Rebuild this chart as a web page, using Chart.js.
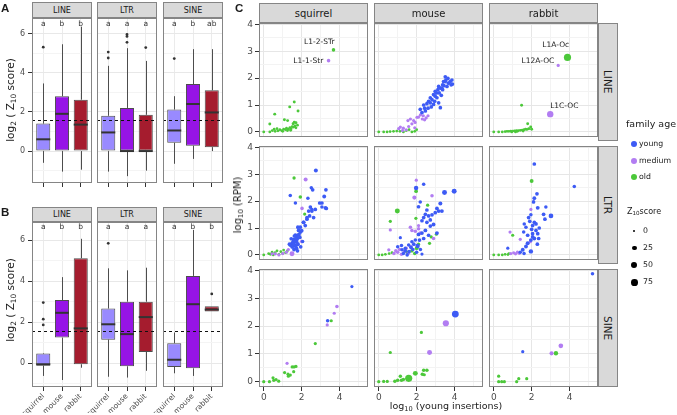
<!DOCTYPE html>
<html>
<head>
<meta charset="utf-8">
<script src="https://cdn.jsdelivr.net/npm/chart.js@4.4.1/dist/chart.umd.min.js"></script>
<style>
  body { margin: 0; width: 677px; height: 415px; position: relative; overflow: hidden; background: #fff;
         font-family: "DejaVu Sans", sans-serif; color: #1a1a1a; }
  canvas { position: absolute; }
  .txt { position: absolute; white-space: nowrap; line-height: 1; }
  .strip { position: absolute; box-sizing: border-box; background: #d9d9d9; border: 1px solid #858585;
           display: flex; align-items: center; justify-content: center; color: #1a1a1a; }
  .vstrip { writing-mode: vertical-rl; }
  sub { font-size: 70%; vertical-align: -0.25em; line-height: 0; }
  .panel { font-family: "Liberation Sans", Arial, sans-serif; font-weight: bold; font-size: 11.5px; }
  .dot { position: absolute; border-radius: 50%; }
</style>
</head>
<body>
<script>
const FONT = '"DejaVu Sans", sans-serif';

// ---- shared categories ----
const speciesNames = ['squirrel', 'mouse', 'rabbit'];
const familyTypes = ['LINE', 'LTR', 'SINE'];
const boxColors = ['#998AFF', '#9614E6', '#A51C2E'];
const ageKeys = ['y', 'm', 'o'];
const ageNames = ['young', 'medium', 'old'];
const ageColors = ['#3D5BF5', '#B27DF2', '#4CC83A'];
const zLegend = [0, 25, 50, 75];
const z10Threshold = Math.log2(3);

// ---- panel A / B box stats: [lower whisker, q1, median, q3, upper whisker] per species ----
const A_LINE = [[-0.6, 0, 0.6, 1.4, 3.45], [-1.05, 0, 1.9, 2.8, 5.45], [-0.95, 0, 1.35, 2.62, 6.35]];
const A_LTR  = [[-1.05, 0, 0.95, 1.8, 4.35], [-1.28, 0, 0, 2.2, 5.25], [-1.0, 0, 0, 1.85, 4.6]];
const A_SINE = [[-0.65, 0.42, 1.05, 2.12, 2.8], [-0.4, 0.27, 2.4, 3.42, 5.2], [0, 0.2, 1.97, 3.1, 5.2]];
const A_LINE_out = [[5.3], [], []];
const A_LTR_out  = [[4.75, 5.05], [5.55, 5.85, 5.95], [5.28]];
const A_SINE_out = [[4.72], [], []];
const B_LINE = [[-0.62, -0.12, -0.05, 0.47, 0.5], [-0.82, 1.25, 2.46, 3.08, 4.2], [-0.22, -0.05, 1.7, 5.12, 6.07]];
const B_LTR  = [[-0.66, 1.15, 1.9, 2.67, 4.63], [-0.7, -0.15, 1.42, 3.0, 4.53], [-0.37, 0.55, 2.25, 3.0, 4.66]];
const B_SINE = [[-0.49, -0.18, 0.17, 0.98, 1.5], [-0.62, -0.25, 2.88, 4.26, 6.5], [2.52, 2.52, 2.62, 2.78, 2.78]];
const B_LINE_out = [[1.87, 2.15, 2.96], [], []];
const B_LTR_out  = [[5.85], [], []];
const B_SINE_out = [[], [], [3.38]];
const lettersA = [['a', 'b', 'b'], ['a', 'a', 'a'], ['a', 'b', 'ab']];
const lettersB = [['a', 'b', 'b'], ['a', 'a', 'a'], ['a', 'b', 'b']];

// ---- panel C points: [log10 young insertions, log10 RPM, Z10 score, age] ----
const pts_squirrel_LINE = [
  [3.68,3.05,8,'o'],[3.42,2.65,8,'m'],
  [1.61,1.11,3,'o'],[1.37,0.93,3,'o'],[1.81,0.78,3,'o'],[0.58,0.66,3,'o'],[1.09,0.45,3,'o'],[1.26,0.42,3,'o'],
  [1.61,0.36,3,'o'],[1.7,0.34,3,'o'],[1.55,0.3,3,'o'],[0.32,0.29,3,'o'],
  [0,0,2,'o'],[0.32,0,2,'o'],[0.45,0.05,2,'o'],[0.55,0.1,2,'o'],[0.6,0.02,2,'o'],[0.7,0.12,2,'o'],[0.75,0.04,2,'o'],
  [0.85,0.08,2,'o'],[0.95,0.05,2,'o'],[1.0,0.02,2,'o'],[1.05,0.1,2,'o'],[1.15,0.08,2,'o'],[1.2,0.14,2,'o'],[1.25,0.05,2,'o'],
  [1.3,0.1,2,'o'],[1.38,0.16,2,'o'],[1.42,0.06,2,'o'],[1.45,0.12,2,'o'],[1.5,0.2,2,'o'],[1.58,0.18,2,'o'],[1.65,0.22,2,'o'],
  [1.7,0.15,2,'o'],[1.78,0.25,2,'o']
];
const pts_mouse_LINE = [
  [0,0,2,'o'],[0.26,0,2,'o'],[0.44,0,2,'o'],[0.6,0.01,2,'o'],[0.78,0.02,2,'o'],[0.95,0.03,2,'o'],[1.12,0.02,2,'o'],
  [1.3,0,2,'o'],[1.45,0.05,2,'o'],[1.6,0.08,2,'o'],[1.75,0,2,'o'],[1.9,0.02,2,'o'],[2.0,0.08,2,'o'],
  [1.05,0.12,5,'m'],[1.14,0.18,5,'m'],[1.25,0.05,5,'m'],[1.3,0.14,5,'m'],[1.45,0.08,5,'m'],[1.54,0.42,5,'m'],[1.58,0.2,5,'m'],
  [1.67,0.48,5,'m'],[1.75,0.3,5,'m'],[1.84,0.42,5,'m'],[1.9,0.15,5,'m'],[1.92,0.35,5,'m'],[2.02,0.54,5,'m'],[2.1,0.55,5,'m'],
  [2.2,0.63,5,'m'],[2.3,0.48,5,'m'],[2.35,0.6,5,'m'],[2.42,0.45,5,'m'],[2.5,0.52,5,'m'],[2.6,0.6,5,'m'],
  [2.19,0.84,10,'y'],[2.28,0.72,10,'y'],[2.37,1.0,10,'y'],[2.42,0.88,10,'y'],[2.46,0.78,10,'y'],[2.54,1.05,10,'y'],[2.6,0.88,10,'y'],
  [2.63,1.14,10,'y'],[2.72,1.27,10,'y'],[2.72,1.08,10,'y'],[2.77,0.93,10,'y'],[2.81,1.2,10,'y'],[2.89,1.39,10,'y'],[2.89,1.02,10,'y'],
  [2.95,1.14,10,'y'],[2.98,1.33,10,'y'],[2.98,1.51,10,'y'],[3.04,1.45,10,'y'],[3.07,1.27,10,'y'],[3.12,1.57,10,'y'],[3.16,1.08,10,'y'],
  [3.16,1.69,10,'y'],[3.19,1.45,10,'y'],[3.25,1.63,10,'y'],[3.25,0.9,10,'y'],[3.3,1.36,10,'y'],[3.33,1.63,10,'y'],[3.37,1.75,10,'y'],
  [3.37,1.57,10,'y'],[3.42,1.87,10,'y'],[3.44,1.72,10,'y'],[3.51,2.05,10,'y'],[3.51,1.87,10,'y'],[3.54,1.93,10,'y'],[3.6,1.69,10,'y'],
  [3.65,1.99,10,'y'],[3.68,1.81,10,'y'],[3.77,1.87,10,'y'],[3.82,1.75,10,'y'],[3.86,1.93,10,'y'],[3.89,1.78,10,'y']
];
const pts_rabbit_LINE = [
  [3.89,2.77,90,'o'],[3.4,2.47,5,'m'],[2.98,0.66,65,'m'],
  [1.47,0.99,3,'o'],[1.79,0.3,3,'o'],[1.95,0.18,3,'o'],[2.0,0.1,3,'o'],[1.85,0.12,3,'o'],
  [0,0,2,'o'],[0.26,0,2,'o'],[0.45,0,2,'o'],[0.6,0.01,2,'o'],[0.7,0.02,2,'o'],[0.8,0.02,2,'o'],[0.9,0.03,2,'o'],[0.95,0,2,'o'],
  [1.0,0.03,2,'o'],[1.1,0.04,2,'o'],[1.15,0,2,'o'],[1.2,0.05,2,'o'],[1.25,0.02,2,'o'],[1.3,0.05,2,'o'],[1.4,0.06,2,'o'],
  [1.5,0.07,2,'o'],[1.55,0.03,2,'o'],[1.6,0.08,2,'o'],[1.68,0.1,2,'o'],[1.75,0.09,2,'o']
];
const pts_squirrel_LTR = [
  [0,0,2,'o'],[0.26,0.05,2,'o'],[0.35,0.02,2,'o'],[0.44,0.1,2,'o'],[0.5,0,2,'o'],[0.6,0.08,2,'o'],[0.7,0.15,2,'o'],
  [0.8,0.02,2,'o'],[0.9,0.12,2,'o'],[1.0,0.05,2,'o'],[1.05,0.18,2,'o'],[1.15,0.08,2,'o'],[1.25,0.15,2,'o'],
  [1.6,2.86,6,'o'],[1.93,2.15,8,'o'],[2.16,1.52,5,'o'],
  [0.44,0.04,5,'m'],[0.61,0.04,5,'m'],[0.8,0,5,'m'],[1.0,0.05,5,'m'],[1.2,0.1,5,'m'],[1.3,0.2,5,'m'],[1.49,0.04,30,'m'],
  [1.72,0.73,5,'m'],[2.0,0.5,8,'m'],[2.21,2.8,14,'m'],[2.02,1.73,8,'m'],
  [2.75,3.14,14,'y'],[2.58,2.42,10,'y'],[2.51,2.5,8,'y'],[3.28,2.42,10,'y'],[1.4,2.21,8,'y'],[2.33,2.11,8,'y'],[3.19,2.17,12,'y'],
  [1.67,1.93,8,'y'],[2.95,1.93,10,'y'],[3.3,1.73,10,'y'],[3.07,1.78,8,'y'],[2.46,1.78,10,'y'],[2.37,1.63,10,'y'],[2.54,1.69,8,'y'],
  [2.63,1.39,10,'y'],[2.28,1.33,12,'y'],[2.1,1.21,12,'y'],[1.93,1.03,10,'y'],[1.84,0.91,12,'y'],[1.67,0.73,12,'y'],[1.58,0.55,14,'y'],
  [1.4,0.37,12,'y'],[2.19,1.09,10,'y'],[2.42,1.45,10,'y'],[2.1,1.21,10,'y'],[2.28,1.39,10,'y'],[2.54,1.63,10,'y'],[2.72,1.69,10,'y'],
  [3.07,1.93,10,'y'],[3.25,1.75,10,'y'],[1.8,1.03,10,'y'],[1.93,0.85,10,'y'],[1.75,0.67,10,'y'],[1.49,0.43,10,'y'],
  [1.55,0.45,20,'y'],[1.6,0.55,25,'y'],[1.7,0.5,25,'y'],[1.75,0.6,20,'y'],[1.65,0.35,20,'y'],[1.8,0.4,15,'y'],[1.5,0.3,15,'y'],
  [1.85,0.75,15,'y'],[1.9,0.65,12,'y'],[1.72,0.25,15,'y'],[1.6,0.2,12,'y'],[2.0,0.9,12,'y'],[2.05,0.5,8,'y'],[1.45,0.6,10,'y'],
  [1.95,0.3,10,'y'],[1.35,0.4,8,'y'],[1.78,0.15,10,'y'],[1.62,0.7,12,'y']
];
const pts_mouse_LTR = [
  [0,0,2,'o'],[0.18,0,2,'o'],[0.35,0.02,2,'o'],[0.55,0.05,2,'o'],[0.7,0.08,2,'o'],[1.5,0.1,8,'o'],[1.75,0.15,8,'o'],
  [2.0,0.25,12,'o'],[1.9,0.05,8,'o'],[2.1,0.4,5,'o'],[1.97,2.37,10,'o'],[2.58,1.85,6,'o'],[0.98,1.63,30,'o'],[1.96,1.36,5,'o'],
  [0.61,1.25,5,'o'],[2.77,0.67,5,'o'],[3.04,0.77,5,'o'],[2.68,0.43,5,'o'],
  [1.98,2.78,5,'m'],[1.88,2.13,15,'m'],[2.81,2.2,8,'m'],[0.61,0.93,5,'m'],[1.67,1.03,8,'m'],[1.75,0.91,8,'m'],[1.93,0.88,8,'m'],
  [2.1,0.97,8,'m'],[2.19,0.81,8,'m'],[2.89,0.61,8,'m'],[0.53,0.19,5,'m'],[2.1,1.09,5,'m'],[0.8,0.05,8,'m'],[1.0,0.1,8,'m'],
  [1.1,0.2,8,'m'],[1.2,0.02,8,'m'],[1.35,0.12,8,'m'],[1.45,0.25,8,'m'],[0.9,0.15,8,'m'],[1.7,0.3,8,'m'],[1.55,0.05,8,'m'],
  [1.97,2.49,20,'y'],[2.37,2.63,8,'y'],[3.47,2.32,30,'y'],[3.98,2.37,30,'y'],[2.19,1.97,8,'y'],[3.25,1.91,14,'y'],[3.07,1.73,12,'y'],
  [3.16,1.63,12,'y'],[3.33,1.63,12,'y'],[2.98,1.57,10,'y'],[2.1,1.79,10,'y'],[2.54,1.67,10,'y'],[2.46,1.51,10,'y'],[2.63,1.45,10,'y'],
  [2.81,1.49,10,'y'],[2.37,1.39,10,'y'],[2.28,1.27,10,'y'],[2.54,1.21,10,'y'],[2.72,1.3,10,'y'],[2.72,1.07,10,'y'],[2.89,1.13,12,'y'],
  [2.46,0.91,12,'y'],[2.28,0.81,10,'y'],[2.1,0.76,10,'y'],[2.05,0.33,20,'y'],[1.14,0.64,5,'y'],[3.07,0.81,12,'y'],[2.63,0.73,10,'y'],
  [2.37,0.61,10,'y'],[1.93,0.55,8,'y'],[1.75,0.49,8,'y'],[1.58,0.37,8,'y'],[1.4,0.25,8,'y'],[1.23,0.19,8,'y'],[2.28,0.03,5,'y'],
  [2.0,0.1,8,'y'],[1.8,0.2,8,'y'],[1.6,0.12,10,'y'],[1.3,0.05,8,'y'],[1.5,0.0,8,'y'],[2.2,0.2,8,'y'],[1.0,0.3,8,'y'],
  [1.2,0.35,8,'y'],[1.4,0.15,10,'y'],[1.7,0.28,10,'y'],[1.85,0.4,10,'y'],[2.15,0.55,10,'y']
];
const pts_rabbit_LTR = [
  [0,0,2,'o'],[0.26,0,2,'o'],[0.45,0,2,'o'],[0.6,0.02,2,'o'],[0.75,0.01,2,'o'],[0.8,0.05,2,'o'],[2.0,2.75,12,'o'],[1.0,0.73,5,'o'],
  [1.96,1.69,5,'m'],[0.86,0.85,5,'m'],[1.4,0.58,5,'m'],[1.93,0.49,5,'m'],[0.9,0.05,5,'m'],[1.05,0.08,5,'m'],[1.15,0.04,5,'m'],
  [1.25,0.1,5,'m'],[1.35,0.06,5,'m'],
  [2.14,3.38,10,'y'],[4.25,2.54,8,'y'],[2.28,2.27,10,'y'],[2.14,2.11,12,'y'],[2.1,1.97,10,'y'],[2.75,1.78,8,'y'],[2.32,1.75,12,'y'],
  [3.02,1.45,25,'y'],[2.63,1.51,10,'y'],[2.7,1.33,10,'y'],[1.84,1.39,10,'y'],[1.96,1.49,8,'y'],[2.14,1.21,10,'y'],[2.23,1.15,10,'y'],
  [2.05,1.09,10,'y'],[1.61,1.15,8,'y'],[1.7,1.03,8,'y'],[1.58,0.85,8,'y'],[1.79,0.73,10,'y'],[2.05,0.79,10,'y'],[2.23,0.91,10,'y'],
  [2.32,0.79,10,'y'],[2.14,0.61,12,'y'],[1.96,0.55,12,'y'],[1.79,0.43,14,'y'],[1.7,0.31,12,'y'],[1.53,0.19,12,'y'],[0.74,0.25,5,'y'],
  [1.96,0.13,20,'y'],[2.05,0.67,10,'y'],[2.37,0.61,10,'y'],[2.0,0.95,10,'y'],[2.4,1.0,10,'y'],[1.9,1.25,10,'y'],[1.4,0.1,8,'y'],
  [1.6,0.05,8,'y'],[2.3,0.4,10,'y']
];
const pts_squirrel_SINE = [
  [3.56,2.19,5,'o'],[2.72,1.37,5,'o'],[1.5,0.53,5,'o'],[1.6,0.53,5,'o'],[1.7,0.55,5,'o'],[1.1,0.33,5,'o'],[1.28,0.27,5,'o'],
  [1.4,0.24,5,'o'],[1.58,0.36,5,'o'],[1.3,0.2,5,'o'],[0.49,0.14,5,'o'],[0.53,0.05,5,'o'],[0.65,0.08,5,'o'],[0.79,0.02,5,'o'],
  [0.3,0,5,'o'],[0,0,5,'o'],
  [3.86,2.7,8,'m'],[3.72,2.46,5,'m'],[3.35,2.04,5,'m'],[1.23,0.66,5,'m'],
  [4.65,3.42,5,'y'],[3.37,2.19,8,'y']
];
const pts_mouse_SINE = [
  [2.25,1.77,5,'o'],[0.61,1.05,5,'o'],[1.58,0.12,90,'o'],[1.93,0.3,30,'o'],[2.37,0.41,8,'o'],[2.54,0.41,8,'o'],[2.3,0.27,8,'o'],
  [2.4,0.25,5,'o'],[1.14,0.2,8,'o'],[1.0,0.05,8,'o'],[1.2,0.05,8,'o'],[1.3,0.08,8,'o'],[0.85,0.02,8,'o'],[0.45,0.01,5,'o'],
  [0.26,0.01,5,'o'],[0,0,5,'o'],
  [3.54,2.1,60,'m'],[2.68,1.05,30,'m'],
  [4.04,2.43,80,'y']
];
const pts_rabbit_SINE = [
  [3.28,1.02,20,'o'],[0.26,0.2,5,'o'],[0.26,0,5,'o'],[0.42,0,5,'o'],[0.56,0,5,'o'],[1.21,0,5,'o'],[1.32,0.11,5,'o'],[1.74,0.11,5,'o'],
  [3.54,1.29,25,'m'],[3.05,1.02,15,'m'],
  [5.21,3.88,8,'y'],[1.53,1.08,5,'y']
];
// text labels: [label, x, y] in data units
const notes_squirrel_LINE = [['L1-2-STr', 2.93, 3.33], ['L1-1-Str', 2.35, 2.65]];
const notes_rabbit_LINE = [['L1A-Oc', 3.27, 3.22], ['L12A-OC', 2.33, 2.65], ['L1C-OC', 3.72, 0.96]];

function sizeFor(z) { return 1 + 2.5 * Math.sqrt(Math.max(z, 0) / 85); }

// ---- helpers ----
function makeCanvas(left, top, w, h) {
  const c = document.createElement('canvas');
  c.width = w; c.height = h;
  c.style.left = left + 'px'; c.style.top = top + 'px';
  c.style.width = w + 'px'; c.style.height = h + 'px';
  document.body.appendChild(c);
  return c;
}
function addDiv(cls, html, css) {
  const d = document.createElement('div');
  d.className = cls; d.innerHTML = html;
  Object.assign(d.style, css);
  document.body.appendChild(d);
  return d;
}
function centered(html, x, y, size, extra) {
  return addDiv('txt', html, Object.assign({ left: x + 'px', top: y + 'px', fontSize: size + 'px',
    transform: 'translate(-50%,-50%)' }, extra || {}));
}

const panelFrame = {
  id: 'panelFrame',
  beforeDraw(chart) {
    const { ctx, chartArea: a } = chart;
    ctx.save(); ctx.fillStyle = '#fff'; ctx.fillRect(a.left, a.top, a.width, a.height); ctx.restore();
  },
  afterDraw(chart) {
    const { ctx, chartArea: a } = chart;
    ctx.save(); ctx.strokeStyle = '#858585'; ctx.lineWidth = 1;
    ctx.strokeRect(a.left + 0.5, a.top + 0.5, a.width - 1, a.height - 1); ctx.restore();
  }
};

// ---- panels A and B (box plots) ----
const boxCols = [32, 97, 163], boxW = 60;
const rowA = { top: 18, h: 165, strip: 2, stripH: 16, min: -1.63, max: 6.79, letterY: 6.5 };
const rowB = { top: 222, h: 165, strip: 207, stripH: 15, min: -1.16, max: 6.89, letterY: 6.66 };

function boxExtras(stats, letters, letterY) {
  return {
    id: 'boxExtras',
    beforeDatasetsDraw(chart) {
      const { ctx, scales: { x, y } } = chart;
      ctx.save(); ctx.strokeStyle = '#4d4d4d'; ctx.lineWidth = 1;
      stats.forEach((s, i) => {
        const px = Math.round(x.getPixelForValue(i + 1)) + 0.5;
        ctx.beginPath();
        ctx.moveTo(px, y.getPixelForValue(s[0])); ctx.lineTo(px, y.getPixelForValue(s[1]));
        ctx.moveTo(px, y.getPixelForValue(s[3])); ctx.lineTo(px, y.getPixelForValue(s[4]));
        ctx.stroke();
      });
      ctx.restore();
    },
    afterDatasetsDraw(chart) {
      const { ctx, scales: { x, y }, chartArea: a } = chart;
      const bars = chart.getDatasetMeta(0).data;
      ctx.save();
      ctx.strokeStyle = '#333'; ctx.lineWidth = 2;
      stats.forEach((s, i) => {
        const b = bars[i], py = y.getPixelForValue(s[2]);
        ctx.beginPath(); ctx.moveTo(b.x - b.width / 2, py); ctx.lineTo(b.x + b.width / 2, py); ctx.stroke();
      });
      const ty = Math.round(y.getPixelForValue(z10Threshold)) + 0.5;
      ctx.strokeStyle = '#111'; ctx.lineWidth = 1; ctx.setLineDash([3, 3]);
      ctx.beginPath(); ctx.moveTo(a.left, ty); ctx.lineTo(a.right, ty); ctx.stroke();
      ctx.setLineDash([]);
      ctx.fillStyle = '#333'; ctx.font = '7.5px ' + FONT; ctx.textAlign = 'center'; ctx.textBaseline = 'middle';
      letters.forEach((t, i) => ctx.fillText(t, x.getPixelForValue(i + 1), y.getPixelForValue(letterY)));
      ctx.restore();
    }
  };
}

function boxFacet(row, k, stats, outs, letters, showLabels) {
  const first = k === 0;
  const axW = 30, axH = showLabels ? 26 : 5, padB = showLabels ? 8 : 0;
  const cv = makeCanvas(boxCols[k] - axW, row.top - 6, boxW + axW + 4, row.h + 6 + axH + padB);
  new Chart(cv, {
    type: 'bar',
    data: {
      datasets: [
        { data: stats.map((s, i) => ({ x: i + 1, y: [s[1], s[3]] })), backgroundColor: boxColors,
          borderColor: '#4d4d4d', borderWidth: 1, borderSkipped: false, barPercentage: 0.75, categoryPercentage: 1 },
        { type: 'scatter', data: outs.flatMap((o, i) => o.map(v => ({ x: i + 1, y: v }))),
          pointRadius: 1.4, backgroundColor: '#333', borderWidth: 0 }
      ]
    },
    options: {
      responsive: false, animation: false, events: [], devicePixelRatio: 1,
      layout: { padding: { top: 6, right: 4, left: 0, bottom: padB } },
      plugins: { legend: { display: false }, tooltip: { enabled: false } },
      scales: {
        x: {
          type: 'linear', min: 0.4, max: 3.6, offset: false, border: { display: false },
          grid: { offset: false, color: '#ebebeb', tickColor: '#333', tickLength: 4, drawTicks: true },
          ticks: { stepSize: 1, includeBounds: false, autoSkip: false, display: showLabels,
                   minRotation: 45, maxRotation: 45, padding: 1, color: '#4d4d4d',
                   font: { size: 7.5, family: FONT }, callback: v => speciesNames[v - 1] },
          afterFit: s => { s.height = axH; s.paddingLeft = 0; s.paddingRight = 0; }
        },
        y: {
          min: row.min, max: row.max, border: { display: false },
          grid: { color: c => c.tick.value % 2 === 0 ? '#e8e8e8' : '#f4f4f4',
                  tickColor: c => (c.tick.value % 2 === 0) ? '#333' : 'rgba(0,0,0,0)',
                  tickLength: 4, drawTicks: first },
          ticks: { display: first, stepSize: 1, includeBounds: false, autoSkip: false, padding: 3,
                   color: '#4d4d4d', font: { size: 8, family: FONT },
                   callback: v => v % 2 === 0 ? v : '' },
          afterFit: s => { s.width = axW; s.paddingTop = 0; s.paddingBottom = 0; }
        }
      }
    },
    plugins: [panelFrame, boxExtras(stats, letters, row.letterY)]
  });
}

const statsA = [A_LINE, A_LTR, A_SINE], outsA = [A_LINE_out, A_LTR_out, A_SINE_out];
const statsB = [B_LINE, B_LTR, B_SINE], outsB = [B_LINE_out, B_LTR_out, B_SINE_out];
familyTypes.forEach((f, k) => {
  boxFacet(rowA, k, statsA[k], outsA[k], lettersA[k], false);
  boxFacet(rowB, k, statsB[k], outsB[k], lettersB[k], true);
  [rowA, rowB].forEach(r => addDiv('strip', f, { left: boxCols[k] + 'px', top: r.strip + 'px',
    width: boxW + 'px', height: r.stripH + 'px', fontSize: '8px' }));
});

// ---- panel C (faceted scatter) ----
const cLeft = [259, 374, 489], cTop = [23, 146, 269], cW = 109, cH = 118;

const notesPlugin = {
  id: 'notes',
  afterDatasetsDraw(chart, args, opts) {
    const { ctx, scales: { x, y } } = chart;
    ctx.save(); ctx.fillStyle = '#1a1a1a'; ctx.font = '7.5px ' + FONT;
    ctx.textAlign = 'center'; ctx.textBaseline = 'middle';
    (opts.items || []).forEach(n => ctx.fillText(n[0], x.getPixelForValue(n[1]), y.getPixelForValue(n[2])));
    ctx.restore();
  }
};

function scatterFacet(r, c, pts, notes) {
  const first = c === 0, last = r === 2;
  const axW = 22, axH = last ? 15 : 0;
  const cv = makeCanvas(cLeft[c] - axW, cTop[r] - 6, cW + axW + 4, cH + 6 + axH);
  new Chart(cv, {
    type: 'scatter',
    data: {
      datasets: ageKeys.map((a, k) => ({
        data: pts.filter(p => p[3] === a).map(p => ({ x: p[0], y: p[1], z: p[2] })),
        backgroundColor: ageColors[k], borderWidth: 0,
        pointRadius: ctx => ctx.raw ? sizeFor(ctx.raw.z) : 2
      }))
    },
    options: {
      responsive: false, animation: false, events: [], devicePixelRatio: 1,
      layout: { padding: { top: 6, right: 4, left: 0, bottom: 0 } },
      plugins: { legend: { display: false }, tooltip: { enabled: false }, notes: { items: notes || [] } },
      scales: {
        x: {
          min: -0.25, max: 5.5, border: { display: false },
          grid: { color: t => t.tick.value % 2 === 0 ? '#e6e6e6' : '#f3f3f3',
                  tickColor: t => t.tick.value % 2 === 0 ? '#333' : 'rgba(0,0,0,0)',
                  tickLength: 4, drawTicks: last },
          ticks: { display: last, stepSize: 1, includeBounds: false, autoSkip: false, padding: 1,
                   maxRotation: 0, color: '#4d4d4d', font: { size: 9, family: FONT },
                   callback: v => v % 2 === 0 ? v : '' },
          afterFit: s => { s.height = axH; s.paddingLeft = 0; s.paddingRight = 0; }
        },
        y: {
          min: -0.19, max: 4.05, border: { display: false },
          grid: { color: t => Number.isInteger(t.tick.value) ? '#e6e6e6' : '#f3f3f3',
                  tickColor: t => Number.isInteger(t.tick.value) ? '#333' : 'rgba(0,0,0,0)',
                  tickLength: 4, drawTicks: first },
          ticks: { display: first, stepSize: 0.5, includeBounds: false, autoSkip: false, padding: 2,
                   color: '#4d4d4d', font: { size: 9, family: FONT },
                   callback: v => Number.isInteger(v) ? v : '' },
          afterFit: s => { s.width = axW; s.paddingTop = 0; s.paddingBottom = 0; }
        }
      }
    },
    plugins: [panelFrame, notesPlugin]
  });
}

const scatterPts = [
  [pts_squirrel_LINE, pts_mouse_LINE, pts_rabbit_LINE],
  [pts_squirrel_LTR, pts_mouse_LTR, pts_rabbit_LTR],
  [pts_squirrel_SINE, pts_mouse_SINE, pts_rabbit_SINE]
];
const scatterNotes = [[notes_squirrel_LINE, null, notes_rabbit_LINE], [null, null, null], [null, null, null]];
familyTypes.forEach((f, r) => {
  speciesNames.forEach((s, c) => scatterFacet(r, c, scatterPts[r][c], scatterNotes[r][c]));
  addDiv('strip vstrip', f, { left: '598px', top: cTop[r] + 'px', width: '20px', height: cH + 'px', fontSize: '10.5px' });
});
speciesNames.forEach((s, c) => addDiv('strip', s, { left: cLeft[c] + 'px', top: '3px', width: cW + 'px', height: '20px', fontSize: '10px' }));

// ---- titles & panel letters ----
addDiv('txt panel', 'A', { left: '1px', top: '3px' });
addDiv('txt panel', 'B', { left: '1px', top: '207px' });
addDiv('txt panel', 'C', { left: '235px', top: '3px' });
centered('log<sub>2</sub> ( Z<sub>10</sub> score)', 10, 100, 10.5, { transform: 'translate(-50%,-50%) rotate(-90deg)' });
centered('log<sub>2</sub> ( Z<sub>10</sub> score)', 10, 300, 10.5, { transform: 'translate(-50%,-50%) rotate(-90deg)' });
centered('log<sub>10</sub> (RPM)', 238, 205, 10, { transform: 'translate(-50%,-50%) rotate(-90deg)' });
centered('log<sub>10</sub> (young insertions)', 446, 406, 9.5);

// ---- legends ----
addDiv('txt', 'family age', { left: '626px', top: '119px', fontSize: '9.5px' });
ageNames.forEach((n, k) => {
  const cy = 144 + k * 16.5;
  addDiv('dot', '', { left: (634 - 3) + 'px', top: (cy - 3) + 'px', width: '6px', height: '6px', background: ageColors[k] });
  addDiv('txt', n, { left: '639px', top: (cy - 4) + 'px', fontSize: '7.8px' });
});
addDiv('txt', 'Z<sub>10</sub>score', { left: '627px', top: '208px', fontSize: '8px' });
zLegend.forEach((z, k) => {
  const cy = 231 + k * 17.1, rr = sizeFor(z);
  addDiv('dot', '', { left: (634.3 - rr) + 'px', top: (cy - rr) + 'px', width: 2 * rr + 'px', height: 2 * rr + 'px', background: '#000' });
  addDiv('txt', String(z), { left: '643px', top: (cy - 4) + 'px', fontSize: '7.8px' });
});
</script>
</body>
</html>
